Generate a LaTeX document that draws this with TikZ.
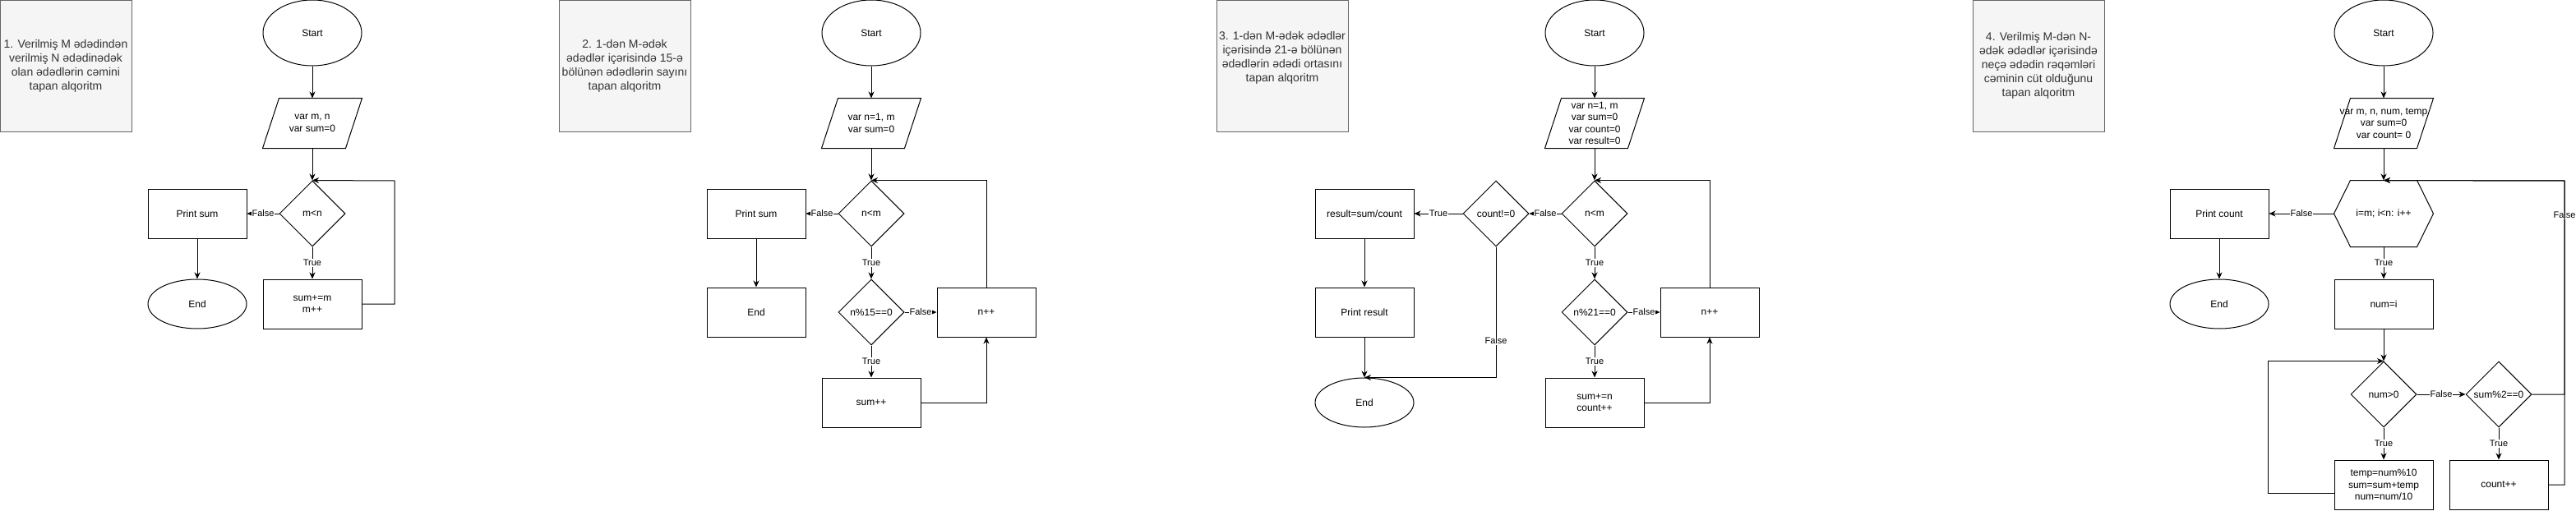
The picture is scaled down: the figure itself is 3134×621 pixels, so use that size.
\documentclass[tikz,border=0pt]{standalone}
\usepackage{fontspec}
\setmainfont{Liberation Sans}
\usetikzlibrary{shapes.geometric,arrows.meta}
\definecolor{notefill}{HTML}{F5F5F5}
\definecolor{noteline}{HTML}{666666}
\definecolor{notetext}{HTML}{333333}
\tikzset{
  base/.style={draw,line width=1pt,align=center,font=\fontsize{12}{14.4}\selectfont,inner sep=2pt},
  box/.style={base,rectangle,minimum width=120,minimum height=60},
  term/.style={base,ellipse,minimum width=120,minimum height=80},
  cond/.style={base,diamond,minimum width=80,minimum height=80,inner sep=0pt},
  io/.style={base,draw=none,minimum width=120,minimum height=60,
    append after command={\pgfextra{\draw[line width=1pt] ([xshift=20pt]\tikzlastnode.north west) -- (\tikzlastnode.north east) -- ([xshift=-20pt]\tikzlastnode.south east) -- (\tikzlastnode.south west) -- cycle;}}},
  hexa/.style={base,draw=none,minimum width=120,minimum height=80,
    append after command={\pgfextra{\draw[line width=1pt] (\tikzlastnode.west) -- ([xshift=20pt]\tikzlastnode.north west) -- ([xshift=-20pt]\tikzlastnode.north east) -- (\tikzlastnode.east) -- ([xshift=-20pt]\tikzlastnode.south east) -- ([xshift=20pt]\tikzlastnode.south west) -- cycle;}}},
  note/.style={draw=noteline,fill=notefill,text=notetext,line width=1pt,minimum width=160,minimum height=160,inner sep=0pt,align=center,font=\fontsize{14}{17}\selectfont},
  arr/.style={line width=1pt,-{Stealth[length=8pt,width=7pt,inset=2.5pt]}},
  lbl/.style={fill=white,inner sep=1pt,font=\fontsize{11}{13}\selectfont}
}
\begin{document}
\begin{tikzpicture}[x=1pt,y=-1pt]
\useasboundingbox (0,0) rectangle (3134,621);

\node[note] (t1) at (80,80) {1. Verilmiş M ədədindən\\verilmiş N ədədinədək\\olan ədədlərin cəmini\\tapan alqoritm};
\node[term] (s1) at (380,40) {Start};
\node[io] (p1) at (380,150) {var m, n\\var sum=0};
\node[cond] (d1) at (380,260) {m<n};
\node[box] (o1) at (240,260) {Print sum};
\node[term,minimum height=60] (e1) at (240,370) {End};
\node[box] (b1) at (380,370) {sum+=m\\m++};
\coordinate (r1) at (480,220);
\draw[arr] (s1)--(p1);
\draw[arr] (p1)--(d1);
\draw[arr] (d1)--(o1) node[lbl,midway]{False};
\draw[arr] (o1)--(e1);
\draw[arr] (d1)--(b1) node[lbl,midway]{True};
\draw[arr] (b1.east) -| (r1) -- (d1.north);

\node[note] (t2) at (760,80) {2. 1-dən M-ədək\\ədədlər içərisində 15-ə\\bölünən ədədlərin sayını\\tapan alqoritm};
\node[term] (s2) at (1060,40) {Start};
\node[io] (p2) at (1060,150) {var n=1, m\\var sum=0};
\node[cond] (d2) at (1060,260) {n<m};
\node[box] (o2) at (920,260) {Print sum};
\node[box] (e2) at (920,380) {End};
\node[cond] (q2) at (1060,380) {n\%15==0};
\node[box] (n2) at (1200,380) {n++};
\node[box] (a2) at (1060,490) {sum++};
\draw[arr] (s2)--(p2);
\draw[arr] (p2)--(d2);
\draw[arr] (d2)--(o2) node[lbl,midway]{False};
\draw[arr] (o2)--(e2);
\draw[arr] (d2)--(q2) node[lbl,midway]{True};
\draw[arr] (q2)--(n2) node[lbl,midway]{False};
\draw[arr] (q2)--(a2) node[lbl,midway]{True};
\draw[arr] (n2.north) |- (d2.north);
\draw[arr] (a2.east) -| (n2.south);

\node[note] (t3) at (1560,80) {3. 1-dən M-ədək ədədlər\\içərisində 21-ə bölünən\\ədədlərin ədədi ortasını\\tapan alqoritm\\\strut};
\node[term] (s3) at (1940,40) {Start};
\node[io] (p3) at (1940,150) {var n=1, m\\var sum=0\\var count=0\\var result=0};
\node[cond] (d3) at (1940,260) {n<m};
\node[cond] (c3) at (1820,260) {count!=0};
\node[box] (r3) at (1660,260) {result=sum/count};
\node[box] (o3) at (1660,380) {Print result};
\node[term,minimum height=60] (e3) at (1660,490) {End};
\node[cond] (q3) at (1940,380) {n\%21==0};
\node[box] (n3) at (2080,380) {n++};
\node[box] (a3) at (1940,490) {sum+=n\\count++};
\draw[arr] (s3)--(p3);
\draw[arr] (p3)--(d3);
\draw[arr] (d3)--(c3) node[lbl,midway]{False};
\draw[arr] (c3)--(r3) node[lbl,midway]{True};
\draw[arr] (r3)--(o3);
\draw[arr] (o3)--(e3);
\draw[arr] (c3.south) |- (e3.north) node[lbl,pos=0.36]{False};
\draw[arr] (d3)--(q3) node[lbl,midway]{True};
\draw[arr] (q3)--(n3) node[lbl,midway]{False};
\draw[arr] (q3)--(a3) node[lbl,midway]{True};
\draw[arr] (n3.north) |- (d3.north);
\draw[arr] (a3.east) -| (n3.south);

\node[note] (t4) at (2480,80) {4. Verilmiş M-dən N-\\ədək ədədlər içərisində\\neçə ədədin rəqəmləri\\cəminin cüt olduğunu\\tapan alqoritm};
\node[term] (s4) at (2900,40) {Start};
\node[io] (p4) at (2900,150) {var m, n, num, temp\\var sum=0\\var count= 0};
\node[hexa] (h4) at (2900,260) {i=m; i<n: i++};
\node[box] (o4) at (2700,260) {Print count};
\node[term,minimum height=60] (e4) at (2700,370) {End};
\node[box] (m4) at (2900,370) {num=i};
\node[cond] (d4) at (2900,480) {num>0};
\node[cond] (k4) at (3040,480) {sum\%2==0};
\node[box] (w4) at (2900,590) {temp=num\%10\\sum=sum+temp\\num=num/10};
\node[box] (c4) at (3040,590) {count++};
\coordinate (r4) at (3120,220);
\draw[arr] (s4)--(p4);
\draw[arr] (p4)--(h4);
\draw[arr] (h4)--(o4) node[lbl,midway]{False};
\draw[arr] (o4)--(e4);
\draw[arr] (h4)--(m4) node[lbl,midway]{True};
\draw[arr] (m4)--(d4);
\draw[arr] (d4)--(w4) node[lbl,midway]{True};
\draw[arr] (d4)--(k4) node[lbl,midway]{False};
\draw[arr] (k4)--(c4) node[lbl,midway]{True};
\draw[arr] (k4.east) -| (r4) node[lbl,pos=0.92]{False} -- (h4.north);
\draw[arr] (c4.east) -| (r4) -- (h4.north);
\draw[arr] ([yshift=-10pt]w4.west) -- ++(-80,0) |- (d4.north);

\end{tikzpicture}
\end{document}
